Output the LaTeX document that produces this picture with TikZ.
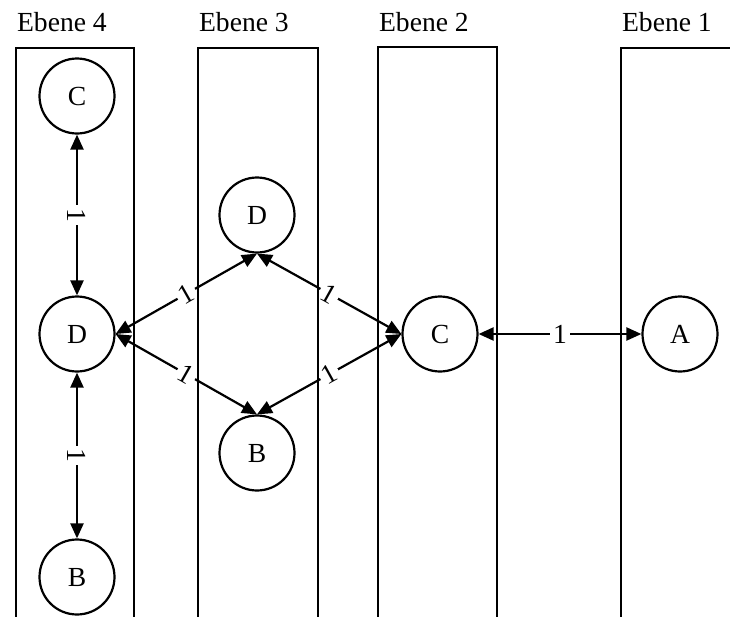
\documentclass[tikz,border=0pt]{standalone}
\usepackage{fontspec}
\setmainfont{Liberation Serif}
\usetikzlibrary{arrows.meta}
\begin{document}
\begin{tikzpicture}[x=0.5pt,y=-0.5pt,line width=1.1pt,font=\fontsize{13.8}{16}\selectfont,
	zustand/.style={draw,circle,minimum size=37.5pt,inner sep=0pt},
	kante/.style={{Triangle[length=7.5pt,width=6.5pt]}-{Triangle[length=7.5pt,width=6.5pt]}},
	gewicht/.style={fill=white,inner sep=1.5pt,sloped}]
	\clip(0,0)rectangle(730,617);
	% Ebenen
	\node[anchor=base west,inner sep=0pt] (e4) at (16,31) {Ebene 4};
	\node[anchor=base west,inner sep=0pt] (e3) at (198,31) {Ebene 3};
	\node[anchor=base west,inner sep=0pt] (e2) at (378,31) {Ebene 2};
	\node[anchor=base west,inner sep=0pt] (e1) at (621,31) {Ebene 1};
	% Zustaende
	\node[zustand] (c4) at (77,96) {C};
	\node[zustand] (d4) at (77,334) {D};
	\node[zustand] (b4) at (77,577) {B};
	\node[zustand] (d3) at (257,215) {D};
	\node[zustand] (b3) at (257,453) {B};
	\node[zustand] (c2) at (440,334) {C};
	\node[zustand] (a1) at (680,334) {A};
	% Kanten
	\draw[kante](c4)--node[gewicht]{1}(d4);
	\draw[kante](d4)--node[gewicht]{1}(b4);
	\draw[kante](d4.east)--node[gewicht]{1}(d3.south);
	\draw[kante](d4.east)--node[gewicht]{1}(b3.north);
	\draw[kante](d3.south)--node[gewicht]{1}(c2.west);
	\draw[kante](b3.north)--node[gewicht]{1}(c2.west);
	\draw[kante](c2)--node[gewicht]{1}(a1);
	% Spalten
	\draw(16,640)--(16,48)--(134,48)--(134,640);
	\draw(198,640)--(198,48)--(318,48)--(318,640);
	\draw(378,640)--(378,47)--(497,47)--(497,640);
	\draw(621,640)--(621,48)--(740,48)--(740,640);
\end{tikzpicture}
\end{document}
